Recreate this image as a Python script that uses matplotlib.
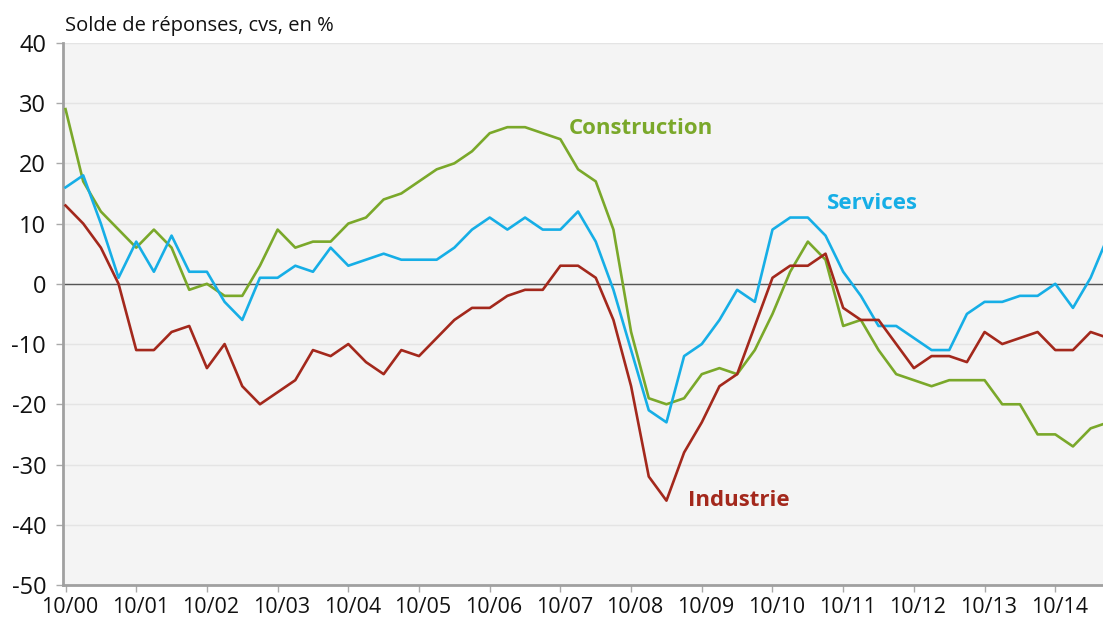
import matplotlib
matplotlib.use("Agg")
import matplotlib.pyplot as plt
from matplotlib.transforms import ScaledTranslation

# Soldes trimestriels, 10/2000 -> 2015 (un point par trimestre)
industrie = [13, 10, 6, 0, -11, -11, -8, -7, -14, -10, -17, -20, -18, -16, -11, -12,
             -10, -13, -15, -11, -12, -9, -6, -4, -4, -2, -1, -1, 3, 3, 1, -6,
             -17, -32, -36, -28, -23, -17, -15, -7, 1, 3, 3, 5, -4, -6, -6, -10,
             -14, -12, -12, -13, -8, -10, -9, -8, -11, -11, -8, -9]
services = [16, 18, 10, 1, 7, 2, 8, 2, 2, -3, -6, 1, 1, 3, 2, 6,
            3, 4, 5, 4, 4, 4, 6, 9, 11, 9, 11, 9, 9, 12, 7, -1,
            -11, -21, -23, -12, -10, -6, -1, -3, 9, 11, 11, 8, 2, -2, -7, -7,
            -9, -11, -11, -5, -3, -3, -2, -2, 0, -4, 1, 8]
construction = [29, 17, 12, 9, 6, 9, 6, -1, 0, -2, -2, 3, 9, 6, 7, 7,
                10, 11, 14, 15, 17, 19, 20, 22, 25, 26, 26, 25, 24, 19, 17, 9,
                -8, -19, -20, -19, -15, -14, -15, -11, -5, 2, 7, 4, -7, -6, -11, -15,
                -16, -17, -16, -16, -16, -20, -20, -25, -25, -27, -24, -23]

tick_labels = ["10/00", "10/01", "10/02", "10/03", "10/04", "10/05", "10/06", "10/07",
               "10/08", "10/09", "10/10", "10/11", "10/12", "10/13", "10/14"]
y_ticks = [40, 30, 20, 10, 0, -10, -20, -30, -40, -50]

RED = "#a3281c"
BLUE = "#16aee6"
GREEN = "#7aa82a"

plt.rcParams["font.family"] = ["Open Sans", "DejaVu Sans"]

fig = plt.figure(figsize=(11.03, 6.21), dpi=100)
ax = fig.add_axes([0.057, 0.058, 0.943, 0.873])
ax.set_facecolor("#f4f4f4")

quarters = list(range(len(industrie)))
ax.plot(quarters, construction, color=GREEN, lw=1.9, zorder=3)
ax.plot(quarters, services, color=BLUE, lw=1.9, zorder=3)
ax.plot(quarters, industrie, color=RED, lw=1.9, zorder=3)

ax.axhline(0, color="#555555", lw=1.0, zorder=2)

ax.set_ylim(-50, 40)
ax.set_xlim(-0.15, 58.7)
ax.set_yticks(y_ticks)
ax.set_yticklabels([str(v) for v in y_ticks], fontsize=17)
ax.set_xticks([4 * k for k in range(len(tick_labels))])
ax.set_xticklabels(tick_labels, fontsize=15.5)
ax.grid(axis="y", color="#e4e4e4", lw=1.0, zorder=1)
ax.tick_params(axis="both", colors="#aaaaaa", length=5, width=1.0, labelcolor="#111111")
ax.tick_params(axis="x", pad=4)
ax.tick_params(axis="y", pad=7)

# les libellés de dates sont un peu décalés à droite des graduations
shift = ScaledTranslation(4 / 100, 0, fig.dpi_scale_trans)
for lab in ax.get_xticklabels():
    lab.set_transform(lab.get_transform() + shift)

for side in ["top", "right"]:
    ax.spines[side].set_visible(False)
for side in ["left", "bottom"]:
    ax.spines[side].set_color("#a0a0a0")
    ax.spines[side].set_linewidth(2.0)

ax.text(28.5, 25.7, "Construction", color=GREEN, fontsize=16, fontweight="bold", va="center")
ax.text(43.1, 13.3, "Services", color=BLUE, fontsize=16, fontweight="bold", va="center")
ax.text(35.2, -36.0, "Industrie", color=RED, fontsize=16, fontweight="bold", va="center")

fig.text(0.059, 0.958, "Solde de réponses, cvs, en %", fontsize=14.5, color="#111111", va="center")

fig.savefig("out.png", dpi=100, facecolor="white")
